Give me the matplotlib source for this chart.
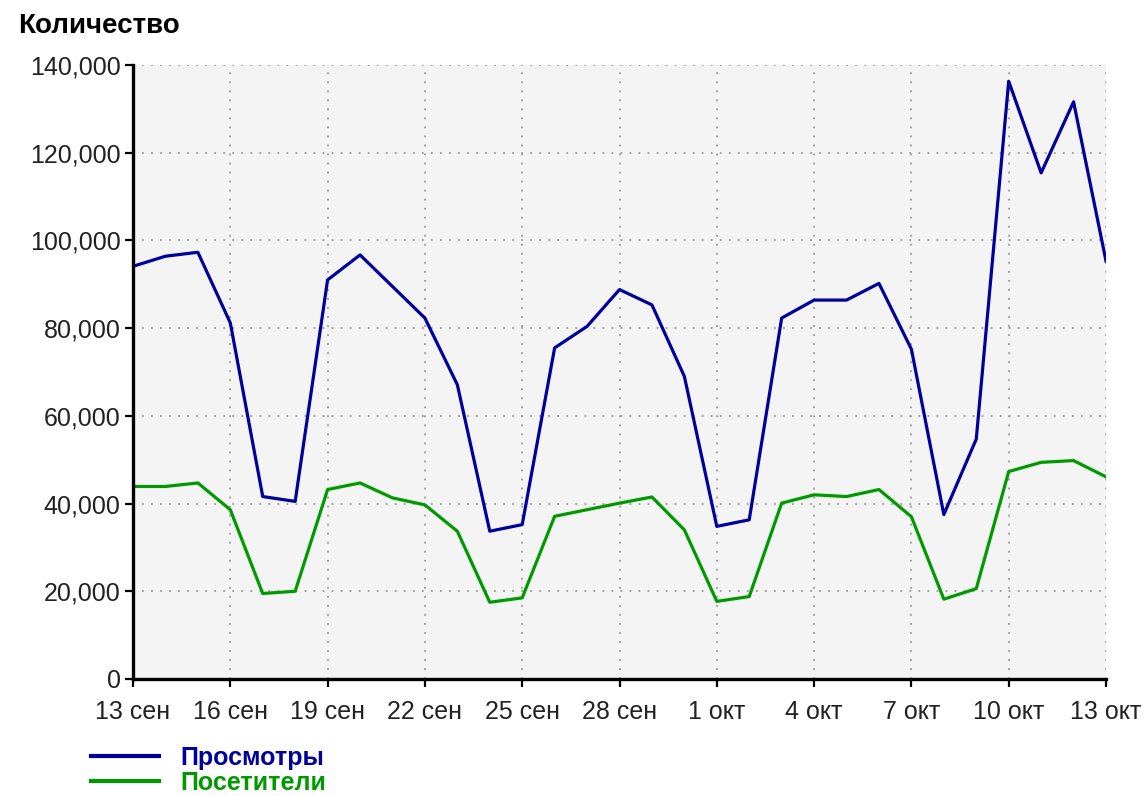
import numpy as np
import matplotlib
matplotlib.use('Agg')
import matplotlib.pyplot as plt
from matplotlib.ticker import FuncFormatter

plt.rcParams['font.family'] = ['Liberation Sans', 'DejaVu Sans']

# days 13 сен .. 13 окт
days = np.arange(31)
tick_days = np.arange(0, 31, 3)
tick_labels = ['13 сен', '16 сен', '19 сен', '22 сен', '25 сен', '28 сен',
               '1 окт', '4 окт', '7 окт', '10 окт', '13 окт']

views = [94.1, 96.4, 97.3, 81.2, 41.6, 40.5, 91.0, 96.7, 89.5, 82.3, 67.1,
         33.7, 35.2, 75.5, 80.4, 88.8, 85.3, 69.0, 34.8, 36.3, 82.3,
         86.4, 86.4, 90.2, 75.2, 37.5, 54.7, 136.3, 115.4, 131.6, 95.3]
visitors = [43.9, 43.9, 44.7, 38.6, 19.5, 20.0, 43.2, 44.7, 41.3, 39.7, 33.7,
            17.5, 18.5, 37.1, 38.6, 40.1, 41.5, 34.0, 17.7, 18.8, 40.1,
            42.0, 41.6, 43.2, 37.0, 18.2, 20.6, 47.3, 49.4, 49.8, 46.1]
views = np.array(views) * 1000
visitors = np.array(visitors) * 1000

fig = plt.figure(figsize=(11.44, 7.96), dpi=100)
ax = fig.add_axes([133/1144, 1 - 679/796, 973/1144, 614/796])
ax.set_facecolor('#f4f4f4')

ax.plot(days, views, color='#00009c', lw=2.3, label='Просмотры')
ax.plot(days, visitors, color='#009a00', lw=2.3, label='Посетители')

ax.set_xlim(0, 30)
ax.set_ylim(0, 140000)
ax.set_xticks(tick_days)
ax.set_xticklabels(tick_labels)
ax.set_yticks(np.arange(0, 140001, 20000))
ax.yaxis.set_major_formatter(FuncFormatter(lambda v, p: '{:,.0f}'.format(v)))

ax.grid(True, color='#9a9a9a', linestyle=(0, (1, 4)), lw=1.3)
ax.set_axisbelow(True)
for s in ['top', 'right']:
    ax.spines[s].set_visible(False)
for s in ['left', 'bottom']:
    ax.spines[s].set_linewidth(2.4)
    ax.spines[s].set_color('black')
ax.tick_params(axis='both', length=6, width=1.6, pad=3, labelsize=18,
               colors='black', labelcolor='#222222')
ax.tick_params(axis='x', pad=9)

fig.text(18/1144, 1 - 26/796, 'Количество', fontsize=20, fontweight='bold',
         va='center', ha='left')

leg = ax.legend(loc='upper left', bbox_to_anchor=(78/1144, 1 - 733/796),
                bbox_transform=fig.transFigure, frameon=False, borderpad=0,
                handlelength=2.75, handletextpad=0.85, labelspacing=0.05,
                prop={'weight': 'bold', 'size': 18}, labelcolor='linecolor')
for h in leg.get_lines():
    h.set_linewidth(3)

fig.savefig('out.png', dpi=100, facecolor='white')
